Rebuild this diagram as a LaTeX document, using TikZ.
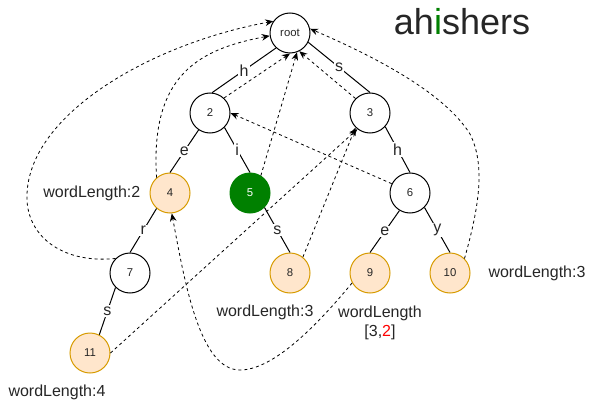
\documentclass[tikz,border=0pt]{standalone}
\usepackage{fontspec}
\setmainfont{Liberation Sans}
\usepackage{xcolor}
\usepackage{tikz}
\usetikzlibrary{arrows.meta}
\definecolor{trWordFill}{RGB}{255,230,204}
\definecolor{trWordLine}{RGB}{215,155,0}
\definecolor{trHit}{RGB}{0,128,0}
\definecolor{trText}{RGB}{38,38,38}

\begin{document}
\begin{tikzpicture}[x=0.75pt, y=0.75pt,
    trie/.style={circle, draw=black, line width=0.75pt, minimum size=30pt, inner sep=0pt, fill=white, text=trText, font=\fontsize{8.5}{10}\selectfont},
    word/.style={trie, draw=trWordLine, fill=trWordFill},
    hit/.style={trie, draw=trHit, fill=trHit, text=white},
    link/.style={line width=0.75pt},
    elabel/.style={midway, fill=white, inner sep=1pt, text=trText, font=\fontsize{12}{12}\selectfont},
    info/.style={text=trText, font=\fontsize{12}{14}\selectfont, align=center},
    fail/.style={dashed, dash pattern=on 2.25pt off 2.25pt, line width=0.6pt, -{Stealth[length=6pt, width=5pt]}}
  ]
    \useasboundingbox (0,0) rectangle (591,404);
    \node[trie] (root) at (290,371) {root};
    \node[trie] (n2) at (210,291) {2};
    \node[trie] (n3) at (370,291) {3};
    \node[word] (n4) at (170,211) {4};
    \node[hit] (n5) at (250,211) {5};
    \node[trie] (n6) at (410,211) {6};
    \node[trie] (n7) at (130,131) {7};
    \node[word] (n8) at (290,131) {8};
    \node[word] (n9) at (370,131) {9};
    \node[word] (n10) at (450,131) {10};
    \node[word] (n11) at (90,51) {11};
    \draw[link] (root.227) -- node[elabel] {h} (n2.84);
    \draw[link] (root.333) -- node[elabel] {s} (n3.north);
    \draw[link] (n2.236) -- node[elabel] {e} (n4.north);
    \draw[link] (n2.315) -- node[elabel] {i} (n5.north);
    \draw[link] (n3.318) -- node[elabel] {h} (n6.north);
    \draw[link] (n4.229) -- node[elabel] {r} (n7.north);
    \draw[link] (n5.315) -- node[elabel] {s} (n8.north);
    \draw[link] (n6.239) -- node[elabel] {e} (n9.north);
    \draw[link] (n6.315) -- node[elabel] {y} (n10.north);
    \draw[link] (n7.225) -- node[elabel] {s} (n11.63);
    \draw[fail] (n2.47) -- (root.270);
    \draw[fail] (n3.135) -- (root.297);
    \draw[fail] (n5.58) -- (root.290);
    \draw[fail] (n4.131) .. controls (150,330) and (200,355) .. (root.188);
    \draw[fail] (n7.135) .. controls (60,140) and (25,170) .. (27,210) .. controls (30,290) and (150,360) .. (root.145);
    \draw[fail] (n6.153) -- (n2.east);
    \draw[fail] (n8.51) -- (n3.225);
    \draw[fail] (n11.east) -- (n3.232);
    \draw[fail] (n9.209) .. controls (310,70) and (270,34) .. (240,34) .. controls (200,34) and (185,120) .. (n4.275);
    \draw[fail] (n10.45) .. controls (480,200) and (485,240) .. (470,270) .. controls (445,310) and (380,345) .. (root.12);
    \node[info, anchor=east] (len4) at (145,211) {wordLength:2};
    \node[info] (len8) at (265,92) {wordLength:3};
    \node[info] (len9) at (380,81) {wordLength\\{}[3,\textcolor{red}{2}]};
    \node[info] (len10) at (537,131) {wordLength:3};
    \node[info] (len11) at (57,12) {wordLength:4};
    \node[text=trText, font=\fontsize{27}{30}\selectfont] (title) at (462,382) {ah\textcolor{trHit}{i}shers};
  \end{tikzpicture}
\end{document}
